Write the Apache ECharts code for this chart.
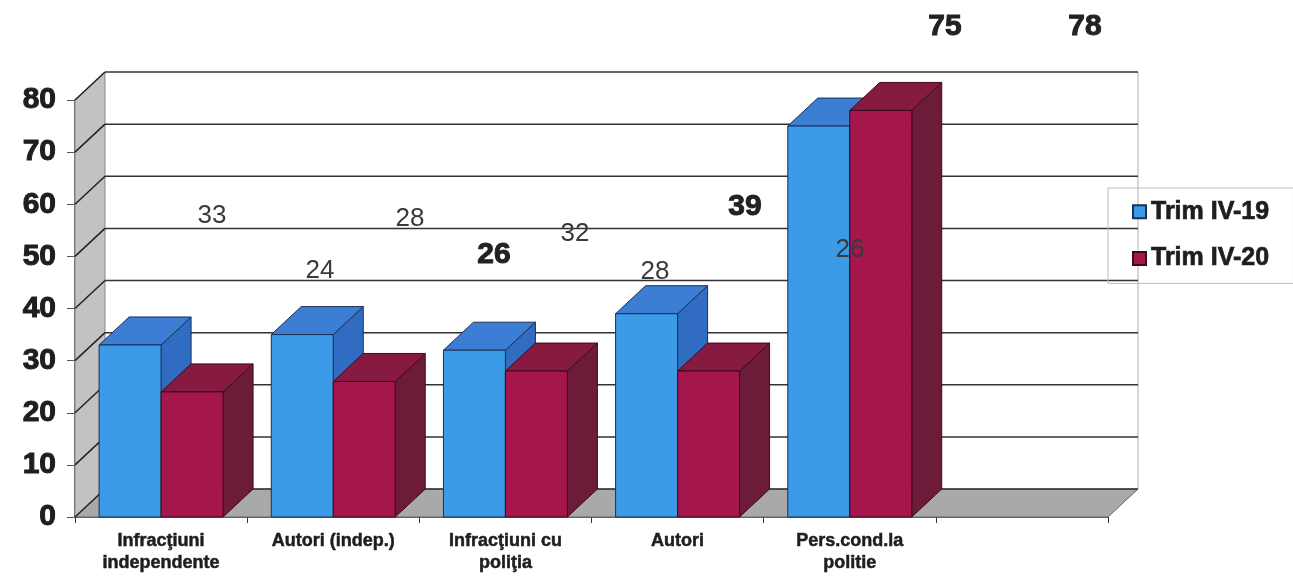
<!DOCTYPE html>
<html>
<head>
<meta charset="utf-8">
<script src="https://cdn.jsdelivr.net/npm/echarts@6/dist/echarts.min.js"></script>
<style>
  html, body { margin: 0; padding: 0; background: #ffffff; }
  #chart { width: 1293px; height: 578px; }
</style>
</head>
<body>
<div id="chart"></div>
<script>
// ---- data ----
const categories = ['Infracţiuni\nindependente', 'Autori (indep.)', 'Infracţiuni cu\npoliţia', 'Autori', 'Pers.cond.la\npolitie', ''];
const seriesNames = ['Trim IV-19', 'Trim IV-20'];
const trim19 = [33, 35, 32, 39, 75];
const trim20 = [24, 26, 28, 28, 78];
const yTicks = [0, 10, 20, 30, 40, 50, 60, 70, 80];
// floating value labels as they appear in the picture
const floatLabels = ['33', '24', '28', '26', '32', '28', '39', '26', '75', '78'];
const floatBold   = [false, false, false, true, false, false, true, false, true, true];
const floatPos = [[212, 216], [320, 271], [410, 219], [494, 255], [575, 234], [655, 272], [745, 207], [850, 250], [945, 27], [1085, 27]];

// ---- style constants ----
const DX = 30, DY = -28;
const FONT = "'Liberation Sans', Arial, sans-serif";
const INK = '#1e1e1e';
const BLUE = { front: '#3c9be6', top: '#3b7ed4', side: '#2f6cc2', edge: '#1b2f55' };
const RED  = { front: '#a4164c', top: '#871a41', side: '#6c1c39', edge: '#3a0b1c' };

function barRenderer(pal, slot) {
  return function (params, api) {
    const ci = api.value(0), v = api.value(1);
    const bw = api.size([1, 0])[0] * 0.36;
    const c = api.coord([ci, v]);
    const b = api.coord([ci, 0]);
    const x0 = c[0] + (slot === 0 ? -bw : 0), x1 = x0 + bw;
    const yt = c[1], yb = b[1];
    const st = (fill) => ({ fill: fill, stroke: pal.edge, lineWidth: 1 });
    return {
      type: 'group',
      children: [
        { type: 'polygon', shape: { points: [[x1, yt], [x1 + DX, yt + DY], [x1 + DX, yb + DY], [x1, yb]] }, style: st(pal.side) },
        { type: 'polygon', shape: { points: [[x0, yt], [x0 + DX, yt + DY], [x1 + DX, yt + DY], [x1, yt]] }, style: st(pal.top) },
        { type: 'rect', shape: { x: x0, y: yt, width: bw, height: yb - yt }, style: st(pal.front) }
      ]
    };
  };
}

function frameRenderer(params, api) {
  const cs = params.coordSys;
  const L = cs.x, R = cs.x + cs.width, B = cs.y + cs.height, T = cs.y;
  return {
    type: 'group',
    children: [
      { type: 'polygon', shape: { points: [[L, B], [L + DX, B + DY], [R + DX, B + DY], [R, B]] },
        style: { fill: '#a9a9a9', stroke: '#666', lineWidth: 1 } },
      { type: 'polygon', shape: { points: [[L, B], [L + DX, B + DY], [L + DX, T + DY], [L, T]] },
        style: { fill: '#c2c2c2', stroke: '#888', lineWidth: 1 } },
      { type: 'line', shape: { x1: R + DX, y1: T + DY, x2: R + DX, y2: B + DY },
        style: { stroke: '#b0b0b0', lineWidth: 1 } }
    ]
  };
}

function gridRenderer(params, api) {
  const cs = params.coordSys;
  const L = cs.x, R = cs.x + cs.width;
  const y = api.coord([0, api.value(1)])[1];
  return {
    type: 'group',
    children: [
      { type: 'line', shape: { x1: L, y1: y, x2: L + DX, y2: y + DY }, style: { stroke: '#222', lineWidth: 1.5 } },
      { type: 'line', shape: { x1: L + DX, y1: y + DY, x2: R + DX, y2: y + DY }, style: { stroke: '#333', lineWidth: 1.5 } }
    ]
  };
}

const chart = echarts.init(document.getElementById('chart'), null, { renderer: 'canvas' });

const graphics = floatLabels.map((t, i) => ({
  type: 'text',
  z: 100,
  style: {
    text: t,
    x: floatPos[i][0],
    y: floatPos[i][1],
    align: 'center',
    verticalAlign: 'middle',
    fill: floatBold[i] ? '#222222' : '#3a3a3a',
    stroke: floatBold[i] ? '#222222' : null,
    lineWidth: floatBold[i] ? 1 : 0,
    font: (floatBold[i] ? 'bold 30px ' : '26px ') + FONT
  }
}));

chart.setOption({
  animation: false,
  backgroundColor: '#ffffff',
  grid: { left: 75, right: 185, top: 100, bottom: 61 },
  legend: {
    orient: 'vertical',
    left: 1108,
    top: 188,
    padding: [11, 24, 12, 24],
    itemGap: 21,
    itemWidth: 13,
    itemHeight: 13,
    itemTextGap: 9,
    icon: 'rect',
    borderColor: '#bdbdbd',
    borderWidth: 1,
    data: seriesNames,
    textStyle: { fontFamily: FONT, fontWeight: 'bold', fontSize: 25, color: INK, lineHeight: 24,
                 textBorderColor: INK, textBorderWidth: 0.7 }
  },
  xAxis: {
    type: 'category',
    data: categories,
    boundaryGap: true,
    axisLine: { show: true, lineStyle: { color: '#333', width: 1.5 } },
    axisTick: { show: true, length: 6, lineStyle: { color: '#333' } },
    axisLabel: { fontFamily: FONT, fontWeight: 'bold', fontSize: 18, color: INK, lineHeight: 22, margin: 13, interval: 0,
                 textBorderColor: INK, textBorderWidth: 0.5 },
    splitLine: { show: false }
  },
  yAxis: {
    type: 'value',
    min: 0, max: 80, interval: 10,
    axisLine: { show: true, lineStyle: { color: '#333', width: 1.5 } },
    axisTick: { show: true, length: 8, lineStyle: { color: '#555' } },
    axisLabel: { fontFamily: FONT, fontWeight: 'bold', fontSize: 30, color: INK, margin: 19,
                 textBorderColor: INK, textBorderWidth: 1 },
    splitLine: { show: false }
  },
  graphic: graphics,
  series: [
    { type: 'custom', name: 'frame', z: 1, silent: true, renderItem: frameRenderer, data: [[0, 0]], encode: { x: 0, y: 1 } },
    { type: 'custom', name: 'grid', z: 1, silent: true, renderItem: gridRenderer, data: yTicks.map(v => [0, v]), encode: { x: 0, y: 1 } },
    { type: 'custom', name: seriesNames[0], z: 2, renderItem: barRenderer(BLUE, 0),
      itemStyle: { color: BLUE.front, borderColor: BLUE.edge, borderWidth: 1 },
      data: trim19.map((v, i) => [i, v]), encode: { x: 0, y: 1 } },
    { type: 'custom', name: seriesNames[1], z: 2, renderItem: barRenderer(RED, 1),
      itemStyle: { color: RED.front, borderColor: RED.edge, borderWidth: 1 },
      data: trim20.map((v, i) => [i, v]), encode: { x: 0, y: 1 } }
  ]
});
</script>
</body>
</html>
